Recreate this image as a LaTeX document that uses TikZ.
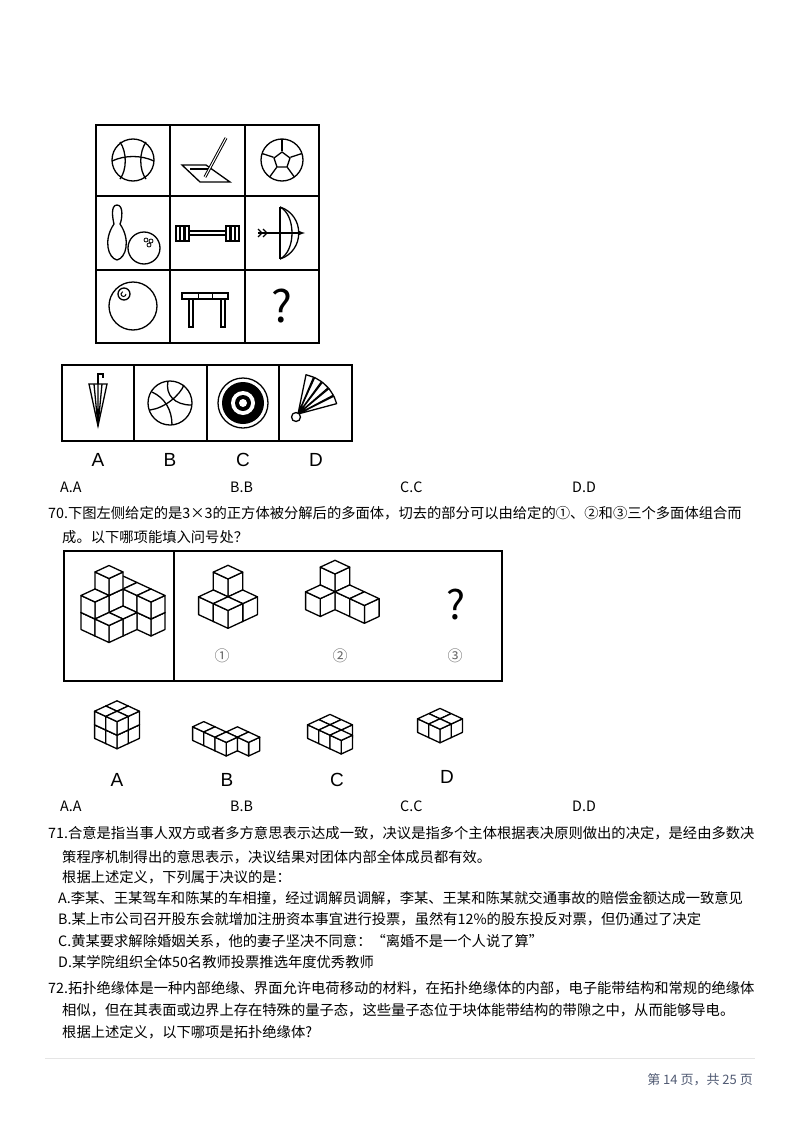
\documentclass[tikz,border=0pt]{standalone}
\usepackage{fontspec}
\setmainfont{Noto Sans CJK SC}
\newfontfamily\latinsans{Liberation Sans}
\usetikzlibrary{calc}

\tikzset{
  txt/.style={anchor=base west,inner sep=0pt,font=\fontsize{14.3}{14.3}\selectfont},
  gridbox/.style={draw,line width=1.6pt},
  icon/.style={line width=1.3pt},
  cubeface/.style={fill=white,draw=black,line width=1.3pt,line join=round},
  optlabel/.style={inner sep=0pt,font=\latinsans\fontsize{19}{19}\selectfont},
  circnum/.style={inner sep=0pt,text=black!60,font=\fontsize{15}{15}\selectfont},
}
% one unit cube at grid place i/j/k
\newcommand\cubeat[3]{%
  \filldraw[cubeface] (#1+1,#2,#3)--(#1+1,#2+1,#3)--(#1+1,#2+1,#3+1)--(#1+1,#2,#3+1)--cycle;
  \filldraw[cubeface] (#1,#2+1,#3)--(#1+1,#2+1,#3)--(#1+1,#2+1,#3+1)--(#1,#2+1,#3+1)--cycle;
  \filldraw[cubeface] (#1,#2,#3+1)--(#1+1,#2,#3+1)--(#1+1,#2+1,#3+1)--(#1,#2+1,#3+1)--cycle;}
% a block of cubes, listed back to front
\newcommand\cubeblock[3]{%
  \begin{scope}[shift={(#1)},x={(#2*14pt,-#2*6.5pt)},y={(-#2*14pt,-#2*6.5pt)},z={(0pt,#2*17pt)}]
    \foreach \i/\j/\k in {#3} {\cubeat{\i}{\j}{\k}}
  \end{scope}}

\begin{document}
\begin{tikzpicture}[x=1pt,y=-1pt]
  \useasboundingbox[fill=white] (0,0) rectangle (800,1132);

  % 3x3 grid of sports
  \draw[gridbox] (96,125) rectangle (319,343);
  \draw[gridbox] (170,125) -- (170,343) (245,125) -- (245,343)
                 (96,196) -- (319,196) (96,270) -- (319,270);

  % row 1
  \draw[icon] (133,160) circle (21);
  \draw[icon] (112,161) .. controls (125,155) and (141,155) .. (154,161);
  \draw[icon] (120,142) .. controls (127,152) and (127,170) .. (120,179);
  \draw[icon] (146,142) .. controls (139,152) and (139,170) .. (146,179);
  \draw[icon] (182,165) -- (206,165) -- (230,182) -- (200,182) -- cycle;
  \draw[icon] (190,169) -- (210,169);
  \draw[icon,line width=3pt] (205,177) -- (226,138);
  \draw[white,line width=1pt] (205,177) -- (226,138);
  \draw[icon] (282,160) circle (21);
  \draw[icon] (282,152) -- (290,158) -- (287,167) -- (277,167) -- (274,158) -- cycle;
  \foreach \a in {90,162,234,306,18}
    \draw[icon] ($(282,160)+(\a:-9)$) -- ($(282,160)+(\a:-21)$);

  % row 2
  \draw[icon] (117,205) .. controls (110,205) and (113,220) .. (114,224)
        .. controls (103,240) and (108,258) .. (117,260)
        .. controls (126,258) and (131,240) .. (120,224)
        .. controls (122,220) and (124,205) .. (117,205);
  \draw[icon] (144,248) circle (16);
  \foreach \p in {(146,240),(151,241),(149,245)} \draw[line width=0.8pt] \p circle (2);
  \draw[icon] (188,231) rectangle (228,235);
  \foreach \x in {176,180,185,226,231,235} \draw[icon,fill=white] (\x,226) rectangle ++(4,15);
  \draw[icon] (280,207) .. controls (305,215) and (305,251) .. (280,259);
  \draw[icon] (280,207) .. controls (296,215) and (296,251) .. (280,259);
  \draw[icon] (280,207) -- (280,259);
  \draw[icon,-latex] (258,233) -- (305,233);
  \draw[icon] (258,229) -- (262,233) -- (258,237) (263,229) -- (267,233) -- (263,237);

  % row 3
  \draw[icon] (133,306) circle (24);
  \draw[icon] (124,294) circle (6);
  \draw[line width=1pt] (126,294) arc (0:250:2.5);
  \draw[icon] (182,293) rectangle (228,299);
  \draw[line width=0.8pt] (198,293) -- (198,299) (212,293) -- (212,299);
  \draw[icon] (189,299) rectangle (193,327) (221,299) rectangle (225,327);
  \node[inner sep=0pt,font=\fontsize{44}{44}\selectfont] (qmark1) at (282,306) {?};

  % four answers
  \draw[gridbox] (62,365) rectangle (352,441);
  \foreach \x in {134,207,279} \draw[gridbox] (\x,365) -- (\x,441);
  \draw[icon] (89,384) -- (107,384) -- (98,426) -- cycle;
  \draw[icon] (98,384) -- (98,426) (94,384) -- (98,426) (102,384) -- (98,426);
  \draw[icon] (98,384) -- (98,374) -- (103,374) -- (103,378);
  \draw[icon] (170,403) circle (22);
  \draw[icon] (152,392) .. controls (165,398) and (172,410) .. (172,425);
  \draw[icon] (168,381) .. controls (165,395) and (175,405) .. (191,405);
  \draw[icon] (150,410) .. controls (165,408) and (180,395) .. (184,385);
  \draw[icon] (243,403) circle (25);
  \fill (243,403) circle (21);
  \fill[white] (243,403) circle (12);
  \fill (243,403) circle (8);
  \fill[white] (243,403) circle (4);
  \foreach \a in {-15,-28,-41,-54,-67}
    \draw[icon,fill=white,line join=round] (298,414) -- ++(\a:40) -- ++(\a-95:8) -- cycle;
  \draw[icon,fill=white] (296,417) circle (4.5);

  \node[optlabel] (lblA1) at (98,460) {A};
  \node[optlabel] (lblB1) at (170,460) {B};
  \node[optlabel] (lblC1) at (243,460) {C};
  \node[optlabel] (lblD1) at (316,460) {D};

  \node[txt] (ans69a) at (60,492) {A.A};
  \node[txt] (ans69b) at (230,492) {B.B};
  \node[txt] (ans69c) at (400,492) {C.C};
  \node[txt] (ans69d) at (572,492) {D.D};

  % question 70
  \node[txt] (q70a) at (48,518) {70.下图左侧给定的是3×3的正方体被分解后的多面体，切去的部分可以由给定的①、②和③三个多面体组合而};
  \node[txt] (q70b) at (62,542) {成。以下哪项能填入问号处？};

  \draw[gridbox] (64,551) rectangle (502,681);
  \draw[gridbox] (174,551) -- (174,681);
  \cubeblock{123,610}{1}{0/0/0,0/0/1,1/0/0,1/0/1,0/1/0,0/1/1,0/1/2,2/0/0,2/0/1,1/1/0,0/2/0,0/2/1,1/2/0}
  \cubeblock{228,601}{1.05}{0/0/0,0/0/1,1/0/0,0/1/0,1/1/0}
  \cubeblock{335,596}{1.05}{0/0/0,0/0/1,1/0/0,0/1/0,2/0/0}
  \node[inner sep=0pt,font=\fontsize{40}{40}\selectfont] (qmark2) at (456,605) {?};
  \node[circnum] (n1) at (222,656) {①};
  \node[circnum] (n2) at (340,656) {②};
  \node[circnum] (n3) at (455,656) {③};

  \cubeblock{117,728}{0.8}{0/0/0,0/0/1,1/0/0,1/0/1,0/1/0,0/1/1,1/1/0,1/1/1}
  \cubeblock{215,730}{0.8}{0/1/0,1/1/0,2/0/0,2/1/0,3/0/0}
  \cubeblock{330,728}{0.8}{0/0/0,1/0/0,0/1/0,1/1/0,2/1/0}
  \cubeblock{440,722}{0.8}{0/0/0,1/0/0,0/1/0,1/1/0}
  \node[optlabel] (lblA2) at (117,780) {A};
  \node[optlabel] (lblB2) at (227,780) {B};
  \node[optlabel] (lblC2) at (337,780) {C};
  \node[optlabel] (lblD2) at (447,777) {D};

  \node[txt] (ans70a) at (60,811) {A.A};
  \node[txt] (ans70b) at (230,811) {B.B};
  \node[txt] (ans70c) at (400,811) {C.C};
  \node[txt] (ans70d) at (572,811) {D.D};

  % question 71
  \node[txt] (q71a) at (48,838) {71.合意是指当事人双方或者多方意思表示达成一致，决议是指多个主体根据表决原则做出的决定，是经由多数决};
  \node[txt] (q71b) at (62,862) {策程序机制得出的意思表示，决议结果对团体内部全体成员都有效。};
  \node[txt] (q71c) at (62,882) {根据上述定义，下列属于决议的是：};
  \node[txt] (q71A) at (58,903) {A.李某、王某驾车和陈某的车相撞，经过调解员调解，李某、王某和陈某就交通事故的赔偿金额达成一致意见};
  \node[txt] (q71B) at (58,924) {B.某上市公司召开股东会就增加注册资本事宜进行投票，虽然有12\%的股东投反对票，但仍通过了决定};
  \node[txt] (q71C) at (58,946) {C.黄某要求解除婚姻关系，他的妻子坚决不同意：“离婚不是一个人说了算”};
  \node[txt] (q71D) at (58,967) {D.某学院组织全体50名教师投票推选年度优秀教师};

  % question 72
  \node[txt] (q72a) at (48,993) {72.拓扑绝缘体是一种内部绝缘、界面允许电荷移动的材料，在拓扑绝缘体的内部，电子能带结构和常规的绝缘体};
  \node[txt] (q72b) at (62,1015) {相似，但在其表面或边界上存在特殊的量子态，这些量子态位于块体能带结构的带隙之中，从而能够导电。};
  \node[txt] (q72c) at (62,1037) {根据上述定义，以下哪项是拓扑绝缘体?};

  \draw[black!10,line width=0.8pt] (45,1058) -- (755,1058);
  \node[anchor=east,inner sep=0pt,text={rgb,255:red,80;green,90;blue,115},
        font=\fontsize{13}{13}\selectfont] (footer) at (753,1080) {第 14 页，共 25 页};
\end{tikzpicture}
\end{document}
